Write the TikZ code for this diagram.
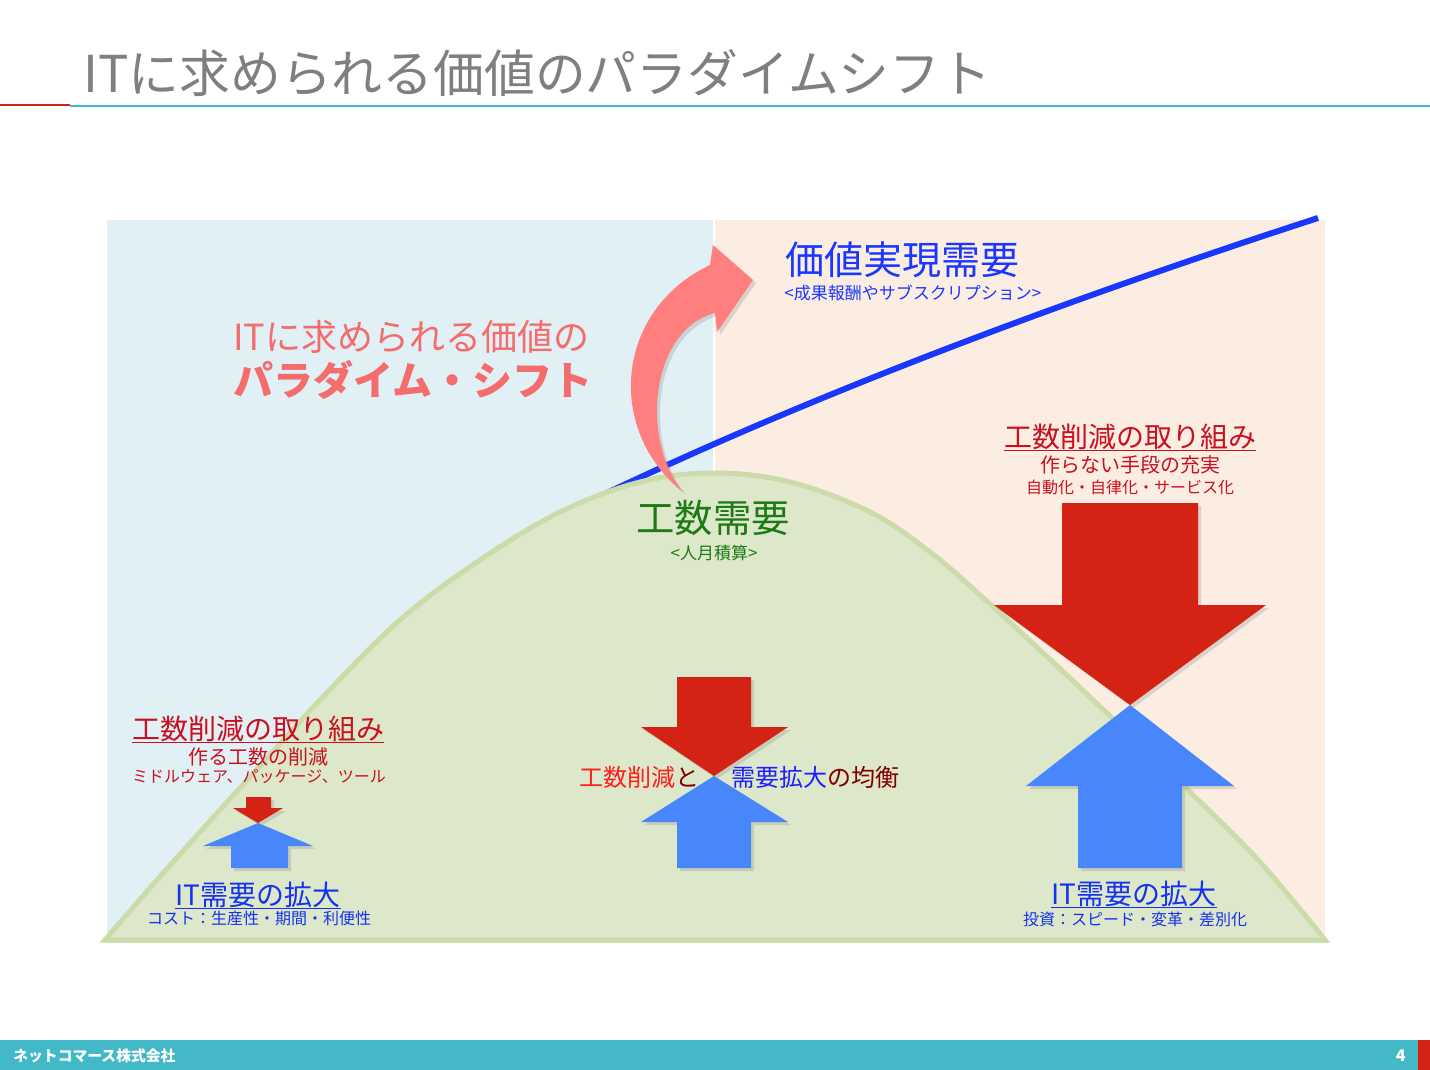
\documentclass[tikz,border=0pt]{standalone}
\usepackage{fontspec}
\setmainfont{Noto Sans CJK JP}
\usetikzlibrary{shadows}
\definecolor{titlegray}{HTML}{7F7F7F}
\definecolor{barteal}{HTML}{43B8C6}
\definecolor{barred}{HTML}{D42215}
\definecolor{paneblue}{HTML}{E1F0F5}
\definecolor{panepeach}{HTML}{FCEDE2}
\definecolor{hillfill}{HTML}{DDE7CA}
\definecolor{hillline}{HTML}{CBDBA9}
\definecolor{valueblue}{HTML}{1937FF}
\definecolor{shiftpink}{HTML}{FF7F7F}
\definecolor{shifttext}{HTML}{F46C6C}
\definecolor{cutred}{HTML}{D42215}
\definecolor{growblue}{HTML}{4886FC}
\definecolor{labelred}{HTML}{C8101E}
\definecolor{labelblue}{HTML}{1432F0}
\definecolor{effortgreen}{HTML}{1E7A14}
\definecolor{balancered}{HTML}{FF1E1E}
\definecolor{balanceblue}{HTML}{1E1EFF}
\definecolor{balancedark}{HTML}{800000}
\newcommand{\fsz}[1]{\fontsize{#1}{#1}\selectfont}

\begin{document}
\begin{tikzpicture}[x=0.5pt, y=-0.5pt, inner sep=0pt,
  softshadow/.style={drop shadow={shadow xshift=1.5pt, shadow yshift=-1.5pt, opacity=0.25}},
  cutarrow/.style={fill=cutred, softshadow},
  growarrow/.style={fill=growblue, softshadow}]
\useasboundingbox (0,0) rectangle (1430,1070);

% Title
\node[titlegray, anchor=west, font=\fsz{25.4}] (title) at (83,73) {ITに求められる価値のパラダイムシフト};
\draw[barred, line width=1pt] (0,105) -- (70,105);
\draw[barteal, line width=1pt] (70,106) -- (1430,106);

% Footer
\fill[barteal] (0,1040) rectangle (1418,1070);
\fill[barred] (1418,1040) rectangle (1430,1070);
\node[white, anchor=west, font=\fsz{7.4}\bfseries] (company) at (13,1056) {ネットコマース株式会社};
\node[white, anchor=east, font=\fsz{8}\bfseries] (pageno) at (1406,1056) {4};

% Panels
\fill[paneblue] (107,220) rectangle (713,940);
\fill[panepeach] (715,220) rectangle (1325,940);

% Value demand line
\draw[valueblue, line width=3pt] (588,502) .. controls (800,400) and (1050,305) .. (1318,218);

% Effort demand hill
\filldraw[fill=hillfill, draw=hillline, line width=2.5pt, softshadow]
  plot[smooth, tension=0.6] coordinates {(105,940) (150,888) (200,832) (260,766) (320,700) (400,620)
    (480,560) (560,512) (640,482) (714,473) (790,482) (870,512) (930,552) (980,595)
    (1040,650) (1110,716) (1190,792) (1260,862) (1325,940)} -- cycle;

% Paradigm shift arrow
\fill[shiftpink, softshadow] (683,492) .. controls (605,430) and (615,310) .. (710,265)
  -- (713,245) -- (753,280) -- (717,332) -- (715,313)
  .. controls (650,330) and (640,440) .. (683,492) -- cycle;
\node[shifttext, anchor=west, font=\fsz{18}] (shiftone) at (233,337) {ITに求められる価値の};
\node[shifttext, anchor=west, font=\fsz{20}\bfseries] (shifttwo) at (233,380) {パラダイム・シフト};

% Value demand labels
\node[valueblue, anchor=west, font=\fsz{19.5}] (valuehead) at (785,260) {価値実現需要};
\node[valueblue, anchor=west, font=\fsz{8.5}] (valuesub) at (784,293) {<成果報酬やサブスクリプション>};

% Effort demand labels
\node[effortgreen, font=\fsz{19.2}] (effort) at (713,518) {工数需要};
\node[effortgreen, font=\fsz{8.5}] (effortsub) at (714,553) {<人月積算>};

% Left: small pair of arrows
\fill[cutarrow] (246,797) -- (271,797) -- (271,808) -- (283,808) -- (258,823) -- (233,808) -- (246,808) -- cycle;
\fill[growarrow] (258,823) -- (313,846) -- (288,846) -- (288,868) -- (231,868) -- (231,846) -- (203,846) -- cycle;
\node[labelred, font=\fsz{14}] (cutleft) at (258,729) {工数削減の取り組み};
\draw[labelred, line width=0.8pt] (cutleft.south west) -- (cutleft.south east);
\node[labelred, font=\fsz{10}] (cutleftsub) at (258,757) {作る工数の削減};
\node[labelred, font=\fsz{8}] (cutleftex) at (259,777) {ミドルウェア、パッケージ、ツール};
\node[labelblue, font=\fsz{14}] (growleft) at (258,895) {IT需要の拡大};
\draw[labelblue, line width=0.8pt] (growleft.south west) -- (growleft.south east);
\node[labelblue, font=\fsz{8}] (growleftsub) at (259,918) {コスト：生産性・期間・利便性};

% Middle: balanced arrows
\fill[cutarrow] (677,677) -- (751,677) -- (751,727) -- (788,727) -- (714,776) -- (641,727) -- (677,727) -- cycle;
\fill[growarrow] (714,776) -- (788,822) -- (751,822) -- (751,868) -- (677,868) -- (677,822) -- (641,822) -- cycle;
\node[anchor=east, font=\fsz{12}] (balanceleft) at (700,777) {\textcolor{balancered}{工数削減}\textcolor{balancedark}{と}};
\node[anchor=west, font=\fsz{12}] (balanceright) at (731,777) {\textcolor{balanceblue}{需要拡大}\textcolor{balancedark}{の均衡}};

% Right: large pair of arrows
\fill[cutarrow] (1062,503) -- (1198,503) -- (1198,605) -- (1266,605) -- (1130,705) -- (994,605) -- (1062,605) -- cycle;
\fill[growarrow] (1130,705) -- (1234,786) -- (1182,786) -- (1182,868) -- (1078,868) -- (1078,786) -- (1026,786) -- cycle;
\node[labelred, font=\fsz{14}] (cutright) at (1130,437) {工数削減の取り組み};
\draw[labelred, line width=0.8pt] (cutright.south west) -- (cutright.south east);
\node[labelred, font=\fsz{10}] (cutrightsub) at (1130,465) {作らない手段の充実};
\node[labelred, font=\fsz{8}] (cutrightex) at (1130,487) {自動化・自律化・サービス化};
\node[labelblue, font=\fsz{14}] (growright) at (1134,894) {IT需要の拡大};
\draw[labelblue, line width=0.8pt] (growright.south west) -- (growright.south east);
\node[labelblue, font=\fsz{8}] (growrightsub) at (1135,919) {投資：スピード・変革・差別化};
\end{tikzpicture}
\end{document}
